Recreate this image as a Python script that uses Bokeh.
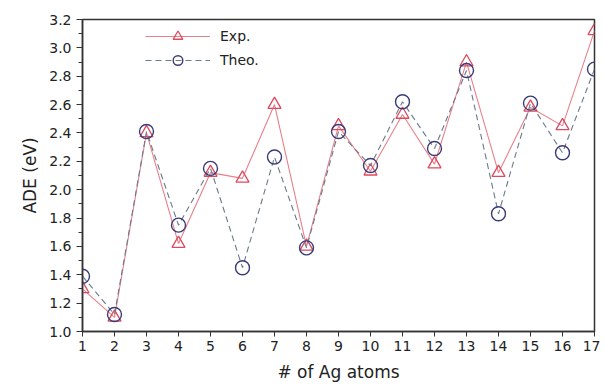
from bokeh.plotting import figure
from bokeh.models import ColumnDataSource, Legend, LegendItem, FixedTicker, Range1d, NumeralTickFormatter
from bokeh.embed import file_html
from bokeh.resources import INLINE

atoms = list(range(1, 18))
exp_ade = [1.30, 1.10, 2.40, 1.62, 2.12, 2.08, 2.60, 1.60, 2.45, 2.13, 2.53, 2.18, 2.90, 2.12, 2.58, 2.45, 3.12]
theo_ade = [1.39, 1.12, 2.41, 1.75, 2.15, 1.45, 2.23, 1.59, 2.41, 2.17, 2.62, 2.29, 2.84, 1.83, 2.61, 2.26, 2.85]
x_ticks = list(range(1, 18))
y_ticks = [1.0, 1.2, 1.4, 1.6, 1.8, 2.0, 2.2, 2.4, 2.6, 2.8, 3.0, 3.2]
y_minor = [1.1, 1.3, 1.5, 1.7, 1.9, 2.1, 2.3, 2.5, 2.7, 2.9, 3.1]

src = ColumnDataSource(dict(x=atoms, exp=exp_ade, theo=theo_ade))

p = figure(width=600, height=384, output_backend="svg", toolbar_location=None,
           x_range=Range1d(1, 17), y_range=Range1d(1.0, 3.2),
           min_border_left=82, min_border_right=6, min_border_top=19, min_border_bottom=49)

p.grid.visible = False
p.outline_line_color = "#333333"
p.outline_line_width = 1.5
p.background_fill_color = "white"
p.border_fill_color = "white"

FONT = "DejaVu Sans"
for ax in (p.xaxis[0], p.yaxis[0]):
    ax.axis_line_color = "#333333"
    ax.axis_line_width = 1.5
    ax.major_tick_line_color = "#333333"
    ax.minor_tick_line_color = "#333333"
    ax.major_tick_in = 0
    ax.minor_tick_in = 0
    ax.major_label_text_font = FONT
    ax.major_label_text_font_size = "14px"
    ax.major_label_text_color = "#222222"
    ax.axis_label_text_font = FONT
    ax.axis_label_text_font_size = "17px"
    ax.axis_label_text_font_style = "normal"
    ax.axis_label_text_color = "#222222"

p.xaxis.ticker = FixedTicker(ticks=x_ticks)
p.xaxis.major_tick_out = 5
p.xaxis.minor_tick_out = 0
p.xaxis.major_label_standoff = 4
p.xaxis.axis_label = "# of Ag atoms"
p.xaxis.axis_label_standoff = 8

p.yaxis.ticker = FixedTicker(ticks=y_ticks, minor_ticks=y_minor + y_ticks)
p.yaxis.major_tick_out = 6
p.yaxis.minor_tick_out = 4
p.yaxis.major_label_standoff = 5
p.yaxis.axis_label = "ADE (eV)"
p.yaxis.axis_label_standoff = 6
p.yaxis.formatter = NumeralTickFormatter(format="0.0")

exp_line = p.line("x", "exp", source=src, line_color="#e8808c", line_width=1.1)
exp_mk = p.scatter("x", "exp", source=src, marker="triangle", size=13,
                   fill_color="white", fill_alpha=0.0, line_color="#dd4a5e", line_width=1.3)
theo_line = p.line("x", "theo", source=src, line_color="#6a7a8a", line_width=1.1, line_dash="6 4")
theo_mk = p.scatter("x", "theo", source=src, marker="circle", size=14,
                    fill_color="white", fill_alpha=0.0, line_color="#3a3c78", line_width=1.4)

legend = Legend(items=[LegendItem(label="Exp.", renderers=[exp_line, exp_mk]),
                       LegendItem(label="Theo.", renderers=[theo_line, theo_mk])],
                location=(63, 259), padding=0, margin=0,
                border_line_alpha=0, background_fill_alpha=0,
                label_text_font=FONT, label_text_font_size="14px", label_text_color="#222222",
                glyph_width=65, glyph_height=24, spacing=0, label_standoff=10)
p.add_layout(legend, "center")

open("out.html", "w").write(file_html(p, INLINE))
